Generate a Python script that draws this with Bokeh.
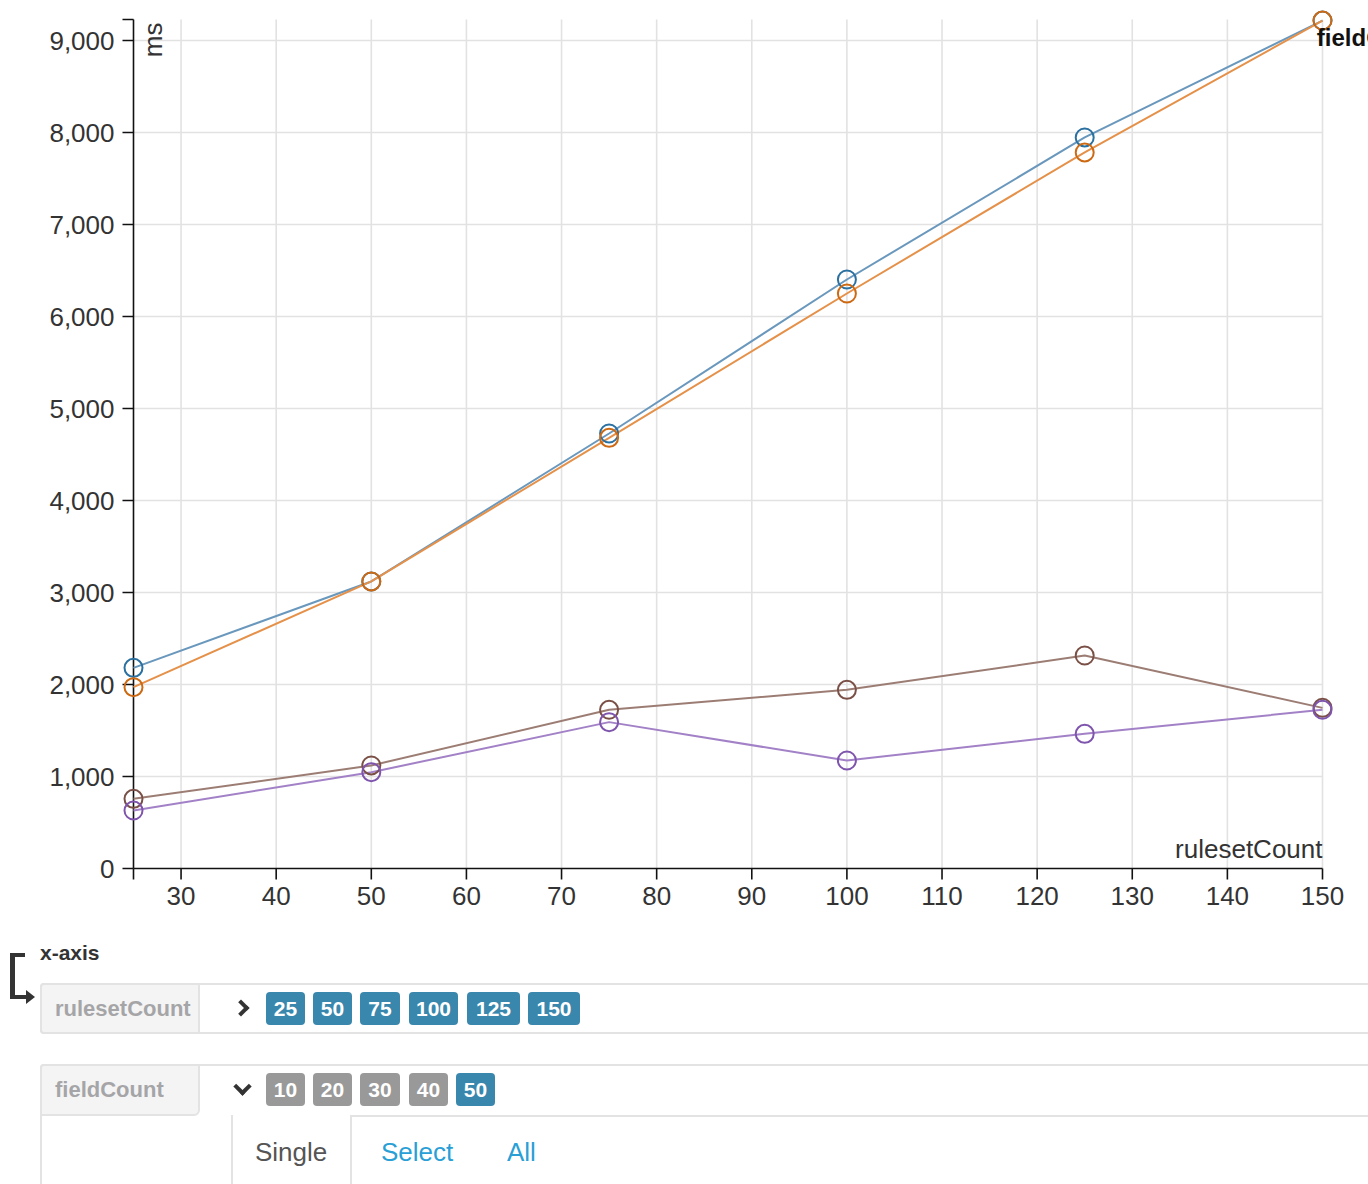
from bokeh.plotting import figure
from bokeh.models import Range1d, Label, Div, ColumnDataSource
from bokeh.core.properties import value
from bokeh.layouts import column
from bokeh.embed import file_html
from bokeh.resources import INLINE
import math

# ---- data ----
ruleset_count = [25, 50, 75, 100, 125, 150]
series_a = [2181, 3120, 4728, 6402, 7946, 9217]
series_b = [1971, 3120, 4681, 6250, 7783, 9217]
series_c = [757, 1120, 1725, 1942, 2315, 1746]
series_d = [630, 1047, 1591, 1174, 1464, 1725]
x_ticks = [25, 30, 40, 50, 60, 70, 80, 90, 100, 110, 120, 130, 140, 150]
y_ticks = [0, 1000, 2000, 3000, 4000, 5000, 6000, 7000, 8000, 9000]
x_min, x_max = 25, 150
y_max = 9228
row1_values = ["25", "50", "75", "100", "125", "150"]
row2_values = ["10", "20", "30", "40", "50"]

FONT = "Liberation Sans"

# the plotting frame covers the whole canvas; the axes are drawn inside it
PX_X = 9.512   # pixels per x unit
PX_Y = 0.092   # pixels per y unit
W, H = 1368, 920
AX_LEFT, AX_BOTTOM = 133, 868
p = figure(width=W, height=H, output_backend="svg", toolbar_location=None,
           x_range=Range1d(x_min - AX_LEFT / PX_X, x_min + (W - AX_LEFT) / PX_X),
           y_range=Range1d(-(H - AX_BOTTOM) / PX_Y, AX_BOTTOM / PX_Y),
           x_axis_location=None, y_axis_location=None,
           min_border_left=0, min_border_right=0, min_border_top=0, min_border_bottom=0)
p.outline_line_color = None
p.background_fill_color = "white"
p.border_fill_color = "white"
p.grid.visible = False

GRID = "#e2e2e2"
AXIS = "#111"
TICK_LEN = 11

# grid lines within the axis extents
gx = x_ticks[1:]
p.segment(x0=gx, y0=[0] * len(gx), x1=gx, y1=[y_max] * len(gx),
          line_color=GRID, line_width=1.6)
gy = y_ticks[1:]
p.segment(x0=[x_min] * len(gy), y0=gy, x1=[x_max] * len(gy), y1=gy,
          line_color=GRID, line_width=1.6)

# axis lines and ticks
p.segment(x0=[x_min, x_min], y0=[0, 0], x1=[x_max, x_min], y1=[0, y_max],
          line_color=AXIS, line_width=1.6)
p.ray(x=x_ticks, y=[0] * len(x_ticks), length=TICK_LEN, length_units="screen",
      angle=-math.pi / 2, line_color=AXIS, line_width=1.6)
yt_all = y_ticks + [y_max]
p.ray(x=[x_min] * len(yt_all), y=yt_all, length=TICK_LEN, length_units="screen",
      angle=math.pi, line_color=AXIS, line_width=1.6)

# tick labels
xsrc = ColumnDataSource(dict(x=x_ticks[1:], y=[0] * len(x_ticks[1:]),
                             t=[str(v) for v in x_ticks[1:]]))
p.text(x="x", y="y", text="t", source=xsrc, y_offset=27, text_align="center",
       text_baseline="middle", text_font=value(FONT), text_font_size="26px",
       text_color="#333")
ysrc = ColumnDataSource(dict(x=[x_min] * len(y_ticks), y=y_ticks,
                             t=[f"{v:,}" for v in y_ticks]))
p.text(x="x", y="y", text="t", source=ysrc, x_offset=-19, text_align="right",
       text_baseline="middle", text_font=value(FONT), text_font_size="26px",
       text_color="#333")

# series
line_colors = ["#6a98bd", "#e5914a", "#9c7d74", "#a281c7"]
mark_colors = ["#2a70a0", "#cc6912", "#7a5046", "#7e54ad"]
for ys, lc in zip([series_a, series_b, series_c, series_d], line_colors):
    p.line(ruleset_count, ys, line_color=lc, line_width=2)
for ys, mc in zip([series_a, series_b, series_c, series_d], mark_colors):
    p.scatter(ruleset_count, ys, marker="circle", size=18, fill_alpha=0,
              line_color=mc, line_width=2)

p.add_layout(Label(x=27.10, y=9196, text="ms", angle=math.pi / 2, text_align="right",
                   text_baseline="middle", text_font=FONT, text_font_size="26px",
                   text_color="#333"))
p.add_layout(Label(x=150, y=217, text="rulesetCount", text_align="right",
                   text_baseline="middle", text_font=FONT, text_font_size="26px",
                   text_color="#333"))
p.add_layout(Label(x=149.4, y=9038, text="fieldCount", text_align="left",
                   text_baseline="middle", text_font=FONT, text_font_size="24px",
                   text_font_style="bold", text_color="#111"))

# ---- controls below the chart ----
BORDER = "#e3e3e3"

def box(style, inner=""):
    return f'<div style="position:absolute;box-sizing:border-box;{style}">{inner}</div>'

parts = []
# bent arrow icon
parts.append(box("left:10px;top:33px;width:15px;height:4px;background:#333;"))
parts.append(box("left:10px;top:33px;width:5px;height:46px;background:#333;"))
parts.append(box("left:10px;top:75px;width:17px;height:4px;background:#333;"))
parts.append(box("left:26px;top:70px;width:0;height:0;border-left:9px solid #333;"
                 "border-top:7px solid transparent;border-bottom:7px solid transparent;"))
parts.append(box("left:40px;top:21px;font-size:21px;line-height:24px;font-weight:bold;color:#333;white-space:nowrap;", "x-axis"))

# row 1
parts.append(box(f"left:40px;top:63px;width:1400px;height:51px;border:2px solid {BORDER};border-radius:4px;"))
parts.append(box(f"left:40px;top:63px;width:160px;height:51px;background:#f4f4f4;border:2px solid {BORDER};"
                 "border-radius:4px 0 0 4px;padding-left:13px;font-size:22px;line-height:47px;font-weight:bold;color:#a5a5a8;white-space:nowrap;",
                 "rulesetCount"))
parts.append(box("left:235px;top:82px;width:12px;height:12px;border-top:4px solid #333;border-right:4px solid #333;transform:rotate(45deg);"))
r1_left = [266, 313, 360, 409, 467, 528]
r1_w = [39, 39, 40, 49, 53, 52]
for t, l, w in zip(row1_values, r1_left, r1_w):
    parts.append(box(f"left:{l}px;top:72px;width:{w}px;height:33px;background:#3a87ad;border-radius:4px;"
                     "color:white;font-size:21px;font-weight:bold;line-height:33px;text-align:center;", t))

# row 2
parts.append(box(f"left:40px;top:144px;width:1400px;height:200px;border-left:2px solid {BORDER};border-top:2px solid {BORDER};border-radius:4px 0 0 0;"))
parts.append(box(f"left:40px;top:144px;width:160px;height:52px;background:#f4f4f4;border:2px solid {BORDER};"
                 "border-radius:4px 0 6px 0;padding-left:13px;font-size:22px;line-height:48px;font-weight:bold;color:#a5a5a8;white-space:nowrap;",
                 "fieldCount"))
parts.append(box("left:236px;top:160px;width:13px;height:13px;border-right:4px solid #333;border-bottom:4px solid #333;transform:rotate(45deg);"))
r2_left = [266, 313, 360, 409, 456]
r2_w = [39, 39, 40, 39, 39]
r2_col = ["#999999", "#999999", "#999999", "#999999", "#3a87ad"]
for t, l, w, c in zip(row2_values, r2_left, r2_w, r2_col):
    parts.append(box(f"left:{l}px;top:153px;width:{w}px;height:33px;background:{c};border-radius:4px;"
                     "color:white;font-size:21px;font-weight:bold;line-height:33px;text-align:center;", t))

# tabs
parts.append(box(f"left:352px;top:195px;width:1100px;height:2px;background:{BORDER};"))
parts.append(box(f"left:231px;top:195px;width:121px;height:100px;border-left:2px solid {BORDER};border-right:2px solid {BORDER};"))
parts.append(box("left:255px;top:217px;font-size:26px;line-height:30px;color:#555;white-space:nowrap;", "Single"))
parts.append(box("left:381px;top:217px;font-size:26px;line-height:30px;color:#2a9fd6;white-space:nowrap;", "Select"))
parts.append(box("left:507px;top:217px;font-size:26px;line-height:30px;color:#2a9fd6;white-space:nowrap;", "All"))

html = (f'<div style="position:relative;width:1368px;height:264px;overflow:hidden;'
        f'font-family:\'{FONT}\',Arial,sans-serif;">' + "".join(parts) + "</div>")
div = Div(text=html, width=1368, height=264, styles={"margin": "0", "padding": "0"})

layout = column(p, div, spacing=0)
open("out.html", "w").write(file_html(layout, INLINE))
